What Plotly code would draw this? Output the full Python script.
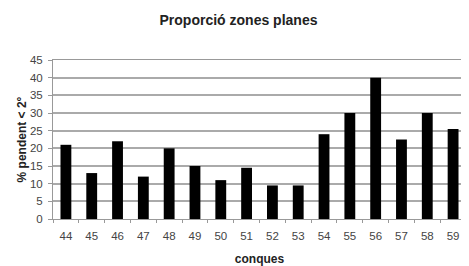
import plotly.graph_objects as go

categories = ["44", "45", "46", "47", "48", "49", "50", "51", "52", "53", "54", "55", "56", "57", "58", "59"]
values = [21, 13, 22, 12, 20, 15, 11, 14.5, 9.5, 9.5, 24, 30, 40, 22.5, 30, 25.5]
y_ticks = [0, 5, 10, 15, 20, 25, 30, 35, 40, 45]

fig = go.Figure(go.Bar(x=categories, y=values, marker=dict(color="black", line=dict(width=0)), width=0.42))

font = "Liberation Sans, Arial, sans-serif"
fig.update_layout(
    width=461, height=258,
    margin=dict(l=45, r=3, t=52, b=47, autoexpand=False),
    paper_bgcolor="white", plot_bgcolor="white",
    showlegend=False,
    title=dict(text="<b>Proporció zones planes</b>", x=0.5, xanchor="center", y=0.955, yanchor="middle",
               font=dict(family=font, size=14, color="#222")),
    font=dict(family=font, size=11, color="#333"),
    xaxis=dict(type="category", showline=True, linecolor="#999", linewidth=1, mirror=True,
               ticks="outside", ticklen=3, tickcolor="#999", tickson="boundaries",
               tickfont=dict(size=11.5, color="#444"), ticklabelstandoff=6,
               title=dict(text="<b>conques</b>", font=dict(size=12, color="#222"), standoff=14),
               showgrid=False, automargin=False),
    yaxis=dict(range=[0, 45], tickvals=y_ticks, showline=True, linecolor="#999", linewidth=1, mirror=True,
               ticks="outside", ticklen=4, tickcolor="#999",
               gridcolor="#aaa", gridwidth=1.5,
               tickfont=dict(size=11.5, color="#444"), ticklabelstandoff=3,
               title=dict(text="<b>% pendent < 2°</b>", font=dict(size=12, color="#222"), standoff=0),
               automargin=False),
)

fig.write_html("out.html")
